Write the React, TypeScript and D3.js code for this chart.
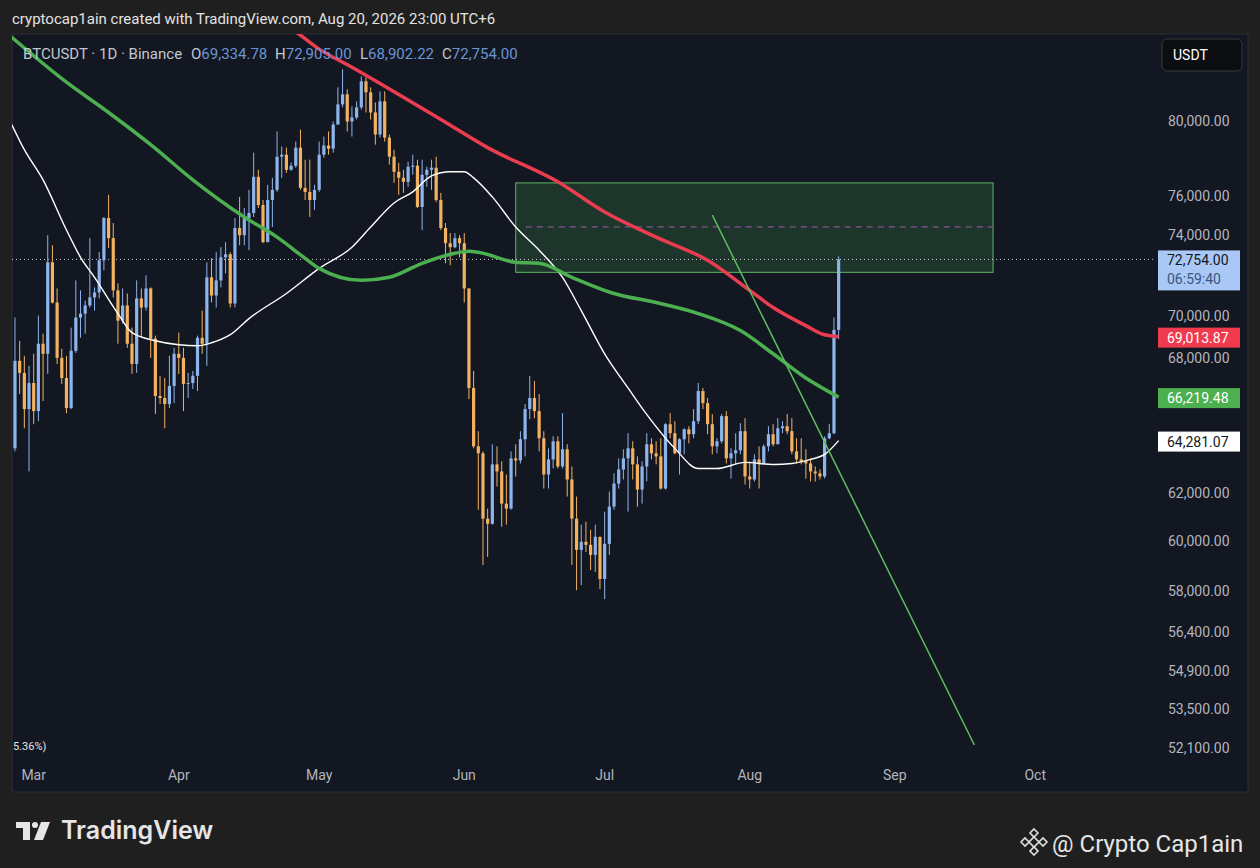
import React from "react";
import * as d3 from "d3";

// daily candles, first candle = Feb 25 2026, open of that candle below
const START = Date.UTC(2026, 1, 25);
const firstOpen = 63940;

const closes = [
  67880, 67325, 65680, 66860, 65590, 68680, 68210, 72610, 70640, 68020,
  67090, 65725, 68350, 69920, 70110, 70500, 70890, 71130, 72710, 74840,
  73820, 71230, 69770, 70500, 68680, 67740, 70840, 70400, 71325, 68920,
  66270, 66180, 65905, 66725, 68210, 68020, 66820, 66860, 67190, 68960,
  68680, 71870, 70980, 71720, 72860, 73010, 70595, 74330, 73970, 74840,
  75100, 76980, 75510, 73620, 75770, 76295, 78045, 78150, 77350, 77560,
  78530, 76400, 76190, 75770, 76295, 78150, 78640, 78475, 79780, 80885,
  81445, 79945, 80165, 80720, 82170, 81555, 80440, 79235, 81050, 79070,
  78045, 77245, 76930, 76715, 77510, 77565, 75410, 77085, 77350, 77460,
  75770, 74330, 73565, 73365, 73820, 73565, 71325, 66635, 64030, 63725,
  60940, 60730, 63245, 62940, 61570, 61360, 63505, 63415, 64340, 65680,
  66180, 65590, 64385, 62810, 63460, 64250, 63155, 63900, 62595, 60940,
  59655, 59985, 59860, 59450, 60190, 58480, 59900, 61445, 62420, 63025,
  63505, 63940, 63245, 62165, 63155, 64120, 63725, 63590, 62210, 65005,
  64605, 63725, 64340, 64780, 64560, 65140, 66495, 65950, 65005, 64030,
  64250, 65365, 63505, 63725, 63855, 64695, 62725, 62595, 63460, 63285,
  64030, 64560, 64120, 64825, 64915, 64695, 63810, 63460, 63375, 63285,
  62940, 62855, 62725, 64385, 64605, 69334.78, 72754,
];

const highs = [
  69920, 68820, 68115, 67650, 68210, 70015, 69155, 73970, 73465, 71325,
  68445, 68115, 69440, 71720, 71230, 70740, 73820, 71375, 73115, 74895,
  76035, 74585, 71570, 71325, 71080, 69440, 71720, 71325, 71965, 71375,
  69060, 67185, 67095, 68115, 68490, 69200, 68490, 67325, 67415, 69060,
  70255, 72610, 72810, 73115, 73365, 73615, 73115, 74840, 75930, 75355,
  76295, 78260, 77350, 75770, 76560, 76925, 79400, 78585, 78530, 77725,
  78855, 79505, 77885, 77885, 76560, 78855, 79125, 79400, 79945, 81835,
  82855, 81725, 80775, 81050, 82455, 82400, 81835, 80995, 81610, 81610,
  79235, 78420, 77725, 77350, 77775, 78155, 77885, 77885, 77510, 77885,
  78045, 76140, 74585, 74075, 74075, 73970, 74075, 71325, 67415, 64695,
  63810, 61360, 64120, 64030, 63375, 62810, 63810, 64120, 64695, 65905,
  67185, 66955, 66360, 64695, 63940, 64470, 64470, 65500, 64120, 63155,
  61870, 60690, 60815, 60480, 60690, 60190, 61235, 62080, 62855, 63505,
  63900, 64605, 64250, 63590, 63375, 64605, 64385, 64250, 64385, 65050,
  65500, 65140, 64385, 64825, 64915, 65680, 66865, 66635, 66180, 65455,
  64385, 65455, 65590, 63940, 64605, 65050, 65275, 63375, 63680, 64030,
  64120, 64915, 65005, 65275, 65140, 65455, 65275, 64385, 64385, 63900,
  63505, 63155, 63025, 64470, 65005, 69920, 72905,
];

const lows = [
  63810, 66360, 64825, 62940, 65005, 65140, 66040, 67280, 70595, 67740,
  66820, 65500, 65680, 68255, 68965, 69155, 70400, 70255, 70835, 72215,
  73315, 70885, 68680, 69630, 68490, 67280, 67325, 68965, 70255, 68020,
  65455, 65905, 64825, 65725, 65950, 67280, 65590, 66180, 66590, 66495,
  68210, 67650, 70645, 70400, 71375, 72065, 70400, 70400, 73465, 73465,
  73215, 74895, 75355, 73565, 73615, 74380, 76190, 76925, 77190, 77300,
  77460, 76295, 75770, 74895, 75255, 76190, 77990, 78155, 78260, 79780,
  80720, 79400, 79125, 80055, 80605, 80440, 80055, 78690, 79070, 78855,
  77620, 76665, 76035, 76140, 76455, 77085, 75355, 74225, 76455, 76295,
  75670, 74225, 72560, 72460, 73315, 72860, 70645, 66130, 63940, 61315,
  59040, 59370, 60690, 62295, 60605, 60690, 61315, 62725, 63285, 63590,
  65230, 65275, 63810, 62210, 62210, 63070, 63070, 63070, 61870, 59040,
  58035, 58235, 59570, 58840, 58760, 58075, 57680, 59450, 61315, 62210,
  62595, 61235, 62595, 61445, 61570, 62510, 63460, 63245, 62165, 62165,
  64385, 63680, 62810, 63680, 64160, 64385, 65005, 65680, 64560, 63680,
  63725, 64160, 63285, 62635, 63245, 63680, 62380, 62210, 62510, 62210,
  63245, 63810, 64030, 64120, 64605, 64560, 63680, 63285, 63245, 62635,
  62510, 62510, 62595, 62635, 64340, 64560, 68902.22,
];

// moving averages, [day index from Feb 25, value]
const maRed: [number, number][] = [
  [50, 86340], [60, 84990], [65, 84000], [72, 82970], [82, 81440], [91, 80055],
  [101, 78530], [116, 76715], [126, 75150], [137, 73870], [148, 72710],
  [157, 71230], [162, 70400], [169, 69535], [173, 69100], [176, 69013.87],
];
const maGreen: [number, number][] = [
  [-1, 84750], [11, 82120], [20, 80440], [29, 78690], [38, 76820], [49, 74890],
  [56, 73870], [62, 72810], [65, 72310], [74, 71720], [80, 71870], [87, 72560],
  [94, 73060], [97, 73160], [99, 73110], [107, 72610], [112, 72560],
  [119, 71870], [128, 71080], [137, 70640], [146, 70110], [155, 69300],
  [162, 68210], [169, 67090], [176, 66219.48],
];
const maWhite: [number, number][] = [
  [-1, 79945], [2, 78420], [6, 76820], [11, 74230], [14, 72860], [17, 71870],
  [22, 70110], [25, 69200], [30, 68820], [35, 68630], [39, 68585], [42, 68725],
  [46, 69105], [50, 69870], [58, 71080], [65, 72310], [72, 73365], [76, 74380],
  [81, 75615], [85, 76190], [89, 77030], [93, 77245], [96, 77245], [98, 76925],
  [102, 75930], [107, 74380], [112, 73215], [117, 71865], [121, 70255],
  [126, 68210], [131, 66635], [134, 65725], [141, 63940], [146, 63065],
  [150, 63065], [156, 63330], [162, 63240], [166, 63285], [170, 63460],
  [173, 63675], [176, 64281.07],
];

// drawings
const zoneDays = [107, 209];
const zonePrices = [76660, 72115];
const trendLine: [number, number][] = [[149, 74995], [205, 52206]];

const priceTicks = [80000, 76000, 74000, 70000, 68000, 62000, 60000, 58000, 56400, 54900, 53500, 52100];
const monthStarts = [2, 3, 4, 5, 6, 7, 8, 9];

const lastPrice = 72754;
const countdown = "06:59:40";
const maLabels = [
  { v: 69013.87, bg: "#ef3b4d", fg: "#ffffff" },
  { v: 66219.48, bg: "#4caf50", fg: "#ffffff" },
  { v: 64281.07, bg: "#ffffff", fg: "#131722" },
];

const W = 1260;
const H = 868;
const plot = { left: 12, right: 1154, top: 34, bottom: 762 };
const UP = "#8db5ec";
const DOWN = "#f3b261";
const FONT = "Roboto, 'Noto Sans', sans-serif";

const dayDate = (i: number) => new Date(START + i * 86400000);

export default function App() {
  const x = d3
    .scaleUtc()
    .domain([new Date(Date.UTC(2026, 2, 1)), new Date(Date.UTC(2026, 9, 1))])
    .range([33.7, 1035.2]);
  const y = d3.scaleLog().domain([52100, 80000]).range([748, 120.5]);
  const fmt = d3.format(",.2f");

  const maLine = d3
    .line<[number, number]>()
    .x((d) => x(dayDate(d[0])))
    .y((d) => y(d[1]))
    .curve(d3.curveMonotoneX);

  const candles = closes.map((c, i) => {
    const o = i === 0 ? firstOpen : closes[i - 1];
    return { o, c, h: highs[i], l: lows[i], date: dayDate(i) };
  });

  const zx0 = x(dayDate(zoneDays[0]));
  const zx1 = x(dayDate(zoneDays[1]));
  const zy0 = y(zonePrices[0]);
  const zy1 = y(zonePrices[1]);
  const zMid = y((zonePrices[0] + zonePrices[1]) / 2);
  const lastY = y(lastPrice);

  return (
    <>
      <style>{`body{margin:0;background:#1f1f1f}`}</style>
      <svg width={W} height={H} style={{ display: "block", fontFamily: FONT }}>
        <defs>
          <clipPath id="plot">
            <rect x={plot.left} y={plot.top} width={plot.right - plot.left} height={plot.bottom - plot.top} />
          </clipPath>
        </defs>
        <rect width={W} height={H} fill="#1f1f1f" />
        <text x={12} y={24} fontSize={15} fill="#e3e3e3">
          cryptocap1ain created with TradingView.com, Aug 20, 2026 23:00 UTC+6
        </text>

        {/* chart panel */}
        <rect x={12} y={34} width={1236} height={758} fill="#131722" stroke="#2b2f38" />

        <g clipPath="url(#plot)">
          {/* zone */}
          <rect x={zx0} y={zy0} width={zx1 - zx0} height={zy1 - zy0} fill="#4caf50" fillOpacity={0.2} stroke="#5fb865" strokeWidth={1} />
          <line x1={zx0 + 10} x2={zx1} y1={zMid} y2={zMid} stroke="#9a62a8" strokeWidth={1} strokeDasharray="6 5" />

          {/* last price line */}
          <line x1={plot.left} x2={plot.right} y1={lastY} y2={lastY} stroke="#c9ccd4" strokeWidth={1} strokeDasharray="1 3" />

          {/* candles */}
          {candles.map((d, i) => {
            const cx = x(d.date);
            const col = d.c >= d.o ? UP : DOWN;
            const top = y(Math.max(d.o, d.c));
            const bot = y(Math.min(d.o, d.c));
            return (
              <g key={i}>
                <line x1={cx} x2={cx} y1={y(Math.max(d.h, d.o, d.c))} y2={y(Math.min(d.l, d.o, d.c))} stroke={col} strokeWidth={1} />
                <rect x={cx - 1.6} y={top} width={3.2} height={Math.max(1, bot - top)} fill={col} />
              </g>
            );
          })}

          {/* moving averages */}
          <path d={maLine(maWhite) || ""} fill="none" stroke="#ffffff" strokeWidth={1.4} />
          <path d={maLine(maGreen) || ""} fill="none" stroke="#4caf50" strokeWidth={3.5} />
          <path d={maLine(maRed) || ""} fill="none" stroke="#ea3d50" strokeWidth={3.5} />

          {/* trend line */}
          <line
            x1={x(dayDate(trendLine[0][0]))}
            y1={y(trendLine[0][1])}
            x2={x(dayDate(trendLine[1][0]))}
            y2={y(trendLine[1][1])}
            stroke="#5cbf60"
            strokeWidth={1.5}
          />
        </g>

        {/* legend */}
        <text x={23} y={59} fontSize={15} fill="#c3c6ce">BTCUSDT · 1D · Binance</text>
        {[
          ["O", "69,334.78", 191],
          ["H", "72,905.00", 275],
          ["L", "68,902.22", 360],
          ["C", "72,754.00", 442],
        ].map(([k, v, px]) => (
          <text key={k as string} x={px as number} y={59} fontSize={15} fill="#c3c6ce">
            {k}
            <tspan fill="#6a95d2">{v}</tspan>
          </text>
        ))}

        {/* price axis */}
        <rect x={1162} y={39} width={80} height={32} rx={5} fill="#0c0d10" stroke="#363a42" />
        <text x={1173} y={55} fontSize={14} fill="#ffffff" dominantBaseline="central">USDT</text>
        {priceTicks.map((v) => (
          <text key={v} x={1168} y={y(v)} fontSize={14} fill="#b2b5be" dominantBaseline="central">
            {fmt(v)}
          </text>
        ))}
        <rect x={1158} y={lastY - 9} width={82} height={40} fill="#a9c8f5" />
        <text x={1167} y={lastY + 1} fontSize={14} fill="#131722" dominantBaseline="central">{fmt(lastPrice)}</text>
        <text x={1167} y={lastY + 20} fontSize={14} fill="#3a5580" dominantBaseline="central">{countdown}</text>
        {maLabels.map((m) => (
          <g key={m.v}>
            <rect x={1158} y={y(m.v) - 9} width={82} height={20} fill={m.bg} />
            <text x={1167} y={y(m.v) + 1} fontSize={14} fill={m.fg} dominantBaseline="central">{fmt(m.v)}</text>
          </g>
        ))}

        {/* time axis */}
        {monthStarts.map((m) => {
          const dt = new Date(Date.UTC(2026, m, 1));
          return (
            <text key={m} x={x(dt)} y={775} fontSize={14} fill="#b2b5be" textAnchor="middle" dominantBaseline="central">
              {d3.utcFormat("%b")(dt)}
            </text>
          );
        })}
        <text x={13} y={746} fontSize={11} fill="#e6e6e6" dominantBaseline="central">5.36%)</text>

        {/* footer */}
        <g fill="#e6e6e6">
          <path d="M16 822 H30 V840 H23 V828 H16 Z" />
          <circle cx={35} cy={825} r={3} />
          <path d="M41 822 H50 L43 840 H34 Z" />
        </g>
        <text x={61} y={839} fontSize={25} fontWeight={600} fill="#e6e6e6" fontFamily="Inter, Roboto, sans-serif">TradingView</text>
        <g fill="none" stroke="#e0e0e0" strokeWidth={1.6} transform="translate(1034,842)">
          <path d="M0 -5 L5 0 L0 5 L-5 0 Z" />
          <path d="M0 -13 L4 -9 L0 -5 L-4 -9 Z" />
          <path d="M0 13 L4 9 L0 5 L-4 9 Z" />
          <path d="M-13 0 L-9 4 L-5 0 L-9 -4 Z" />
          <path d="M13 0 L9 4 L5 0 L9 -4 Z" />
        </g>
        <text x={1052} y={852} fontSize={24} fill="#e6e6e6">@ Crypto Cap1ain</text>
      </svg>
    </>
  );
}
